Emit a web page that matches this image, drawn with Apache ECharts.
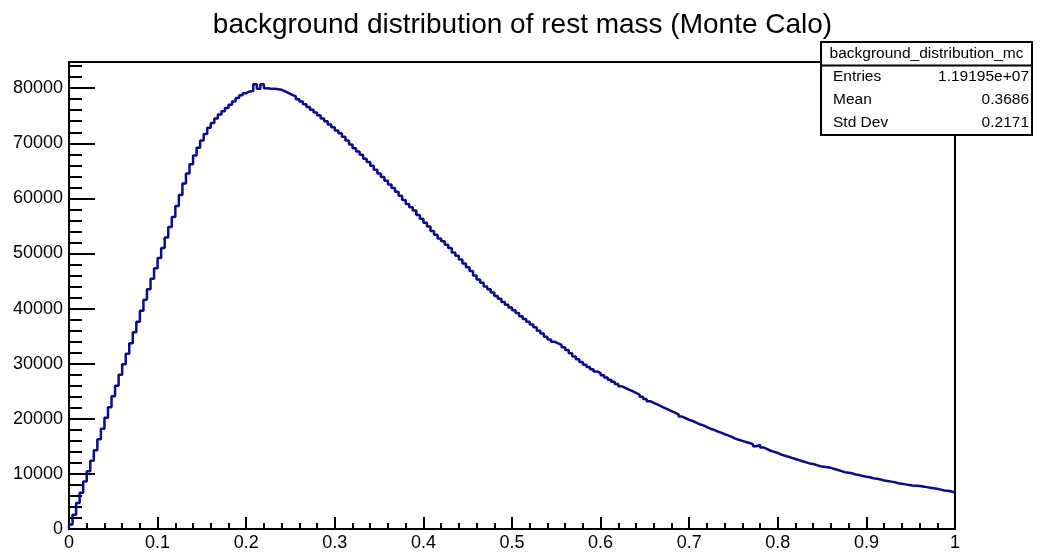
<!DOCTYPE html>
<html lang="en">
<head>
    <meta charset="UTF-8">
    <title>background distribution of rest mass</title>
    <style>
        html, body { margin: 0; padding: 0; background: #fff; }
        #main { width: 1045px; height: 554px; }
    </style>
</head>
<body>
<div id="main"></div>
<script src="https://cdn.jsdelivr.net/npm/echarts@6/dist/echarts.min.js"></script>
<script>
    // histogram range and binning (250 bins from 0 to 1)
    var xRange = [0, 1];
    var binCount = 250;
    var yMax = 84750;

    // bin contents, 10 bins per row
    var binValues = [
        800, 2600, 4700, 6600, 8600, 10500, 12400, 14300, 16300, 18200,
        20200, 22100, 24100, 26000, 28000, 29900, 31800, 33700, 35700, 37600,
        39600, 41600, 43500, 45400, 47300, 49200, 51000, 52900, 54800, 56600,
        58600, 60600, 62700, 64500, 66200, 67800, 69200, 70500, 71700, 72800,
        73700, 74500, 75200, 75800, 76400, 77000, 77600, 78200, 78700, 79100,
        79400, 79500, 80700, 79900, 80700, 80000, 79900, 79900, 79800, 79700,
        79400, 79100, 78800, 78500, 78000, 77600, 77100, 76600, 76100, 75600,
        75100, 74500, 74000, 73400, 72900, 72300, 71800, 71200, 70500, 69800,
        69100, 68500, 67900, 67200, 66600, 65900, 65200, 64500, 63900, 63200,
        62500, 61900, 61200, 60500, 59700, 59000, 58400, 57800, 57000, 56300,
        55600, 54900, 54100, 53400, 52700, 52200, 51600, 51000, 50200, 49600,
        48900, 48200, 47500, 46800, 46000, 45300, 44700, 44000, 43500, 42900,
        42300, 41800, 41200, 40700, 40200, 39700, 39200, 38600, 38100, 37600,
        37100, 36600, 36000, 35500, 34900, 34400, 34000, 33700, 33400, 33000,
        32500, 31900, 31300, 30800, 30300, 29800, 29400, 29000, 28600, 28300,
        27900, 27500, 27100, 26700, 26300, 25900, 25600, 25300, 25000, 24700,
        24400, 24000, 23600, 23200, 22900, 22600, 22300, 22000, 21700, 21400,
        21100, 20800, 20400, 20100, 19800, 19600, 19300, 19000, 18800, 18500,
        18200, 18000, 17700, 17500, 17200, 17000, 16700, 16400, 16200, 16000,
        15800, 15600, 15400, 15000, 15300, 14800, 14500, 14200, 14000, 13800,
        13500, 13300, 13100, 12900, 12700, 12500, 12300, 12100, 11900, 11800,
        11600, 11400, 11300, 11200, 11100, 10900, 10700, 10500, 10300, 10200,
        10100, 9900, 9800, 9600, 9500, 9400, 9200, 9100, 9000, 8800,
        8700, 8600, 8500, 8300, 8200, 8100, 8000, 7900, 7850, 7800,
        7700, 7600, 7500, 7400, 7300, 7150, 7000, 6950, 6800, 6600
    ];

    // stats box
    var statsName = 'background_distribution_mc';
    var statsLabels = ['Entries', 'Mean', 'Std Dev'];
    var statsValues = ['1.19195e+07', '0.3686', '0.2171'];

    var titleText = 'background distribution of rest mass (Monte Calo)';
    var fontName = '"Liberation Sans", Arial, sans-serif';

    // build step points on bin edges
    var binWidth = (xRange[1] - xRange[0]) / binCount;
    var histData = [[xRange[0], 0]];
    for (var i = 0; i < binValues.length; i++) {
        histData.push([xRange[0] + i * binWidth, binValues[i]]);
    }
    histData.push([xRange[1], binValues[binValues.length - 1]]);

    // stats box graphics
    var boxL = 821, boxT = 42, boxW = 211, boxH = 93;
    var rowY = [77, 100, 123];
    var graphics = [
        { type: 'rect', shape: { x: boxL, y: boxT, width: boxW, height: boxH },
          style: { fill: '#fff', stroke: '#000', lineWidth: 2 }, z: 100 },
        { type: 'line', shape: { x1: boxL, y1: 65.5, x2: boxL + boxW, y2: 65.5 },
          style: { stroke: '#000', lineWidth: 2 }, z: 101 },
        { type: 'text', x: boxL + boxW / 2, y: 54, z: 101,
          style: { text: statsName, font: '15.5px ' + fontName, fill: '#000',
                   textAlign: 'center', textVerticalAlign: 'middle' } }
    ];
    for (var k = 0; k < statsLabels.length; k++) {
        graphics.push({ type: 'text', x: 833, y: rowY[k], z: 101,
            style: { text: statsLabels[k], font: '15.5px ' + fontName, fill: '#000',
                     textAlign: 'left', textVerticalAlign: 'middle' } });
        graphics.push({ type: 'text', x: 1029, y: rowY[k], z: 101,
            style: { text: statsValues[k], font: '15.5px ' + fontName, fill: '#000',
                     textAlign: 'right', textVerticalAlign: 'middle' } });
    }

    var myChart = echarts.init(document.getElementById('main'));
    var option = {
        animation: false,
        backgroundColor: '#fff',
        title: {
            text: titleText,
            left: 'center',
            top: 6,
            textStyle: { fontFamily: fontName, fontSize: 28, fontWeight: 'normal', color: '#000' }
        },
        grid: {
            left: 69, right: 90, top: 62, bottom: 25,
            show: true, borderColor: '#000', borderWidth: 2
        },
        xAxis: {
            type: 'value',
            min: xRange[0], max: xRange[1], interval: 0.1,
            axisLine: { lineStyle: { color: '#000', width: 2 } },
            axisTick: { inside: true, length: 12, lineStyle: { color: '#000', width: 2 } },
            minorTick: { show: true, splitNumber: 5, length: 6, lineStyle: { color: '#000', width: 2 } },
            axisLabel: { color: '#000', fontFamily: fontName, fontSize: 18, margin: 5 },
            splitLine: { show: false }
        },
        yAxis: [
            {
                type: 'value',
                min: 0, max: yMax, interval: 10000,
                axisLine: { show: true, lineStyle: { color: '#000', width: 2 } },
                axisTick: { show: true, inside: true, length: 26, lineStyle: { color: '#000', width: 2 } },
                axisLabel: {
                    color: '#000', fontFamily: fontName, fontSize: 18, margin: 6, showMaxLabel: false,
                    formatter: function (v) { return String(v); }
                },
                splitLine: { show: false }
            },
            {
                // minor ticks every 2000
                type: 'value',
                position: 'left', offset: 0,
                min: 0, max: yMax, interval: 2000,
                axisLine: { show: false },
                axisTick: { show: true, inside: true, length: 13, lineStyle: { color: '#000', width: 2 } },
                axisLabel: { show: false },
                splitLine: { show: false }
            }
        ],
        series: [{
            type: 'line',
            step: 'end',
            showSymbol: false,
            symbol: 'none',
            data: histData,
            lineStyle: { color: '#0b0b8c', width: 2.5 }
        }],
        graphic: graphics
    };
    myChart.setOption(option);
</script>
</body>
</html>
